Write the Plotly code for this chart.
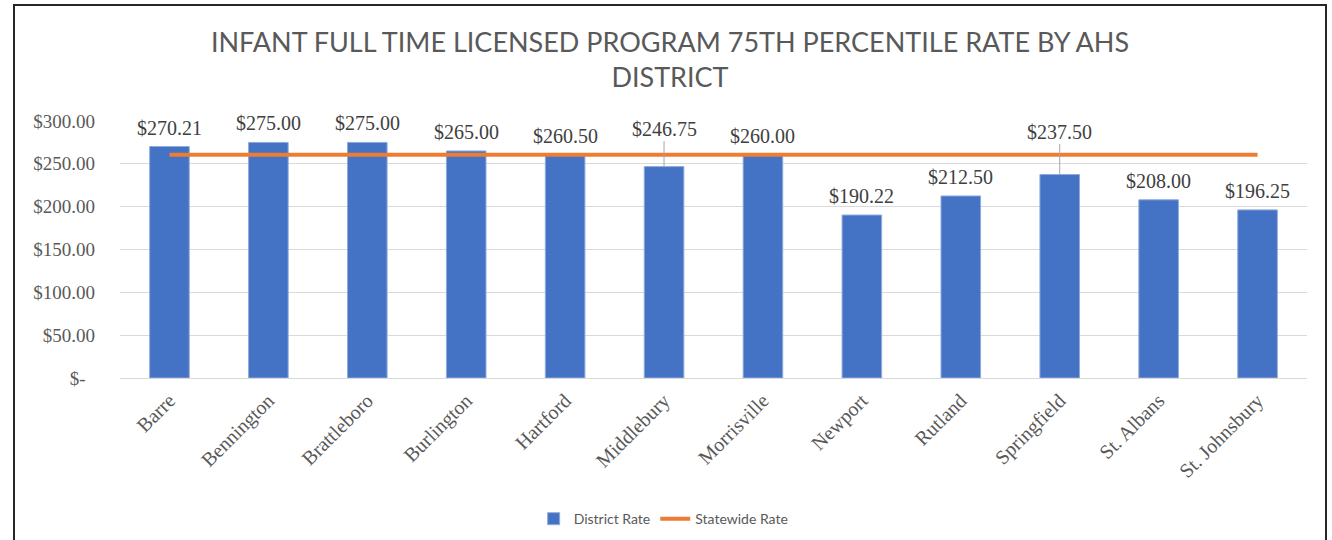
import plotly.graph_objects as go

districts = ["Barre", "Bennington", "Brattleboro", "Burlington", "Hartford", "Middlebury",
             "Morrisville", "Newport", "Rutland", "Springfield", "St. Albans", "St. Johnsbury"]
district_rate = [270.21, 275.00, 275.00, 265.00, 260.50, 246.75, 260.00, 190.22, 212.50, 237.50, 208.00, 196.25]
statewide_rate = [260.7] * len(districts)
y_ticks = [0, 50, 100, 150, 200, 250, 300]
y_tick_labels = ["$-\u00a0\u00a0", "$50.00", "$100.00", "$150.00", "$200.00", "$250.00", "$300.00"]
leader_offsets = {"Middlebury": -38, "Springfield": -43}

BLUE = "#4472C4"
ORANGE = "#ED7D31"
GRAY = "#595959"
SERIF = "Liberation Serif, Times New Roman, serif"
SANS = "Lato, Open Sans, sans-serif"

fig = go.Figure()
fig.add_trace(go.Bar(x=districts, y=district_rate, name="District Rate",
                     marker=dict(color=BLUE, line=dict(color="#8FAADC", width=1))))
fig.add_trace(go.Scatter(x=districts, y=statewide_rate, name="Statewide Rate", mode="lines",
                         line=dict(color=ORANGE, width=4)))

for d, v in zip(districts, district_rate):
    txt = f"${v:,.2f}"
    if d in leader_offsets:
        fig.add_annotation(x=d, y=v, text=txt, showarrow=True, arrowhead=0, arrowwidth=1,
                           arrowcolor="#A6A6A6", ax=0, ay=leader_offsets[d],
                           font=dict(family=SERIF, size=20, color="#404040"))
    else:
        fig.add_annotation(x=d, y=v, text=txt, showarrow=False, yanchor="bottom", yshift=6,
                           font=dict(family=SERIF, size=20, color="#404040"))

# outer chart border
fig.add_shape(type="rect", xref="paper", yref="paper",
              x0=(14 - 120) / 1187, x1=(1326 - 120) / 1187,
              y0=-0.7, y1=(378 - 5) / 257,
              line=dict(color="#262626", width=2), fillcolor="rgba(0,0,0,0)", layer="below")

fig.update_layout(
    width=1332, height=540,
    margin=dict(l=120, r=25, t=121, b=162, autoexpand=False),
    paper_bgcolor="white", plot_bgcolor="white",
    title=dict(text="INFANT FULL TIME LICENSED PROGRAM 75TH PERCENTILE RATE BY AHS<br>DISTRICT",
               x=0.503, xanchor="center", y=0.903, yanchor="top",
               font=dict(family=SANS, size=27, color=GRAY)),
    bargap=0.6,
    showlegend=True,
    legend=dict(orientation="h", x=0.458, xanchor="center", y=-0.549, yanchor="middle",
                font=dict(family=SANS, size=14, color=GRAY)),
    xaxis=dict(tickangle=-45, tickfont=dict(family=SERIF, size=20, color=GRAY),
               showgrid=False, showline=False, ticks="", automargin=False, ticklabelstandoff=6),
    yaxis=dict(range=[0, 300], tickvals=y_ticks, ticktext=y_tick_labels,
               tickfont=dict(family=SERIF, size=19, color=GRAY), automargin=False,
               showgrid=True, gridcolor="#D9D9D9", gridwidth=1, zeroline=True,
               zerolinecolor="#D9D9D9", zerolinewidth=1, ticks="", ticklabelstandoff=24),
)

fig.write_html("out.html", config={"displayModeBar": False},
               post_script="document.body.style.margin='0';")
